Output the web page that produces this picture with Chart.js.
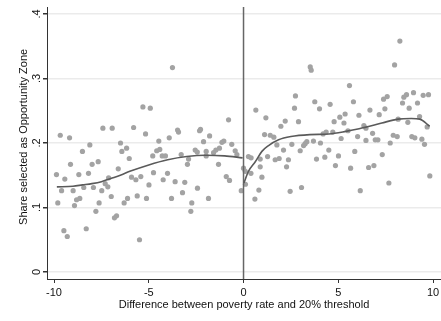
<!DOCTYPE html>
<html>
<head>
<meta charset="utf-8">
<script src="https://cdn.jsdelivr.net/npm/chart.js@4/dist/chart.umd.min.js"></script>
<style>
  body { margin: 0; background: #fff; }
  canvas { display: block; }
</style>
</head>
<body>
<canvas id="chart" width="441" height="321"></canvas>
<script>
const xTicks = [-10, -5, 0, 5, 10];
const yTicks = [0, 0.1, 0.2, 0.3, 0.4];
const yTickLabels = ['0', '.1', '.2', '.3', '.4'];
const cutoff = 0;

// binned scatter: distance from threshold vs share selected
const pointX = [
  -9.67, -9.18, -7.42, -6.93, -6.49, -6.17, -6.42, -8.50, -8.11, -6.03,
  -9.13, -7.99, -7.67, -9.87, -9.43, -8.69, -8.18, -6.61, -7.12, -7.30,
  -7.16, -9.60, -8.99, -8.43, -7.92, -7.48, -6.98, -8.64, -8.81, -8.92,
  -9.80, -7.62, -6.12, -6.30, -7.79, -6.70, -6.81, -9.48, -9.30, -8.30,
  -3.75, -5.31, -4.92, -5.80, -5.17, -3.48, -3.43, -2.27, -2.32, -1.79,
  -2.11, -4.47, -3.92, -4.79, -4.58, -4.42, -4.29, -4.12, -3.29, -2.55,
  -2.44, -1.97, -1.97, -2.90, -2.96, -4.75, -4.01, -5.91, -5.68, -5.42,
  -4.24, -3.61, -3.10, -4.99, -2.43, -3.22, -5.61, -5.12, -3.80, -2.73,
  -2.78, -1.85, -5.49,
  -0.79, 0.65, 1.18, 2.20, 1.97, 1.11, 1.41, 1.60, -1.04, -1.14,
  -0.62, 1.76, -1.27, -1.46, -1.58, -0.44, -0.35, 2.11, 1.27, 0.26,
  0.40, 0.88, 1.67, 1.88, 2.37, 2.27, -1.32, 0.88, 0.00, 0.09,
  0.39, -0.91, -0.74, 0.97, -0.12, 0.81, 0.60, 2.46, 0.10,
  3.52, 3.57, 5.59, 2.74, 3.76, 5.80, 2.69, 4.01, 4.57, 6.67,
  5.36, 5.08, 6.09, 2.90, 4.78, 5.30, 5.51, 6.35, 6.46, 4.20,
  4.36, 4.71, 6.02, 5.15, 6.46, 3.69, 4.06, 3.34, 3.25, 3.17,
  2.55, 2.99, 4.50, 5.87, 5.01, 3.85, 4.29, 4.85, 5.65, 6.60,
  3.06, 6.16,
  8.25, 7.97, 8.97, 8.60, 8.46, 9.48, 9.76, 7.58, 7.39, 8.39,
  9.18, 7.46, 8.74, 7.16, 9.29, 8.16, 8.67, 9.69, 6.81, 7.90,
  8.11, 8.88, 9.04, 9.41, 9.55, 6.95, 7.09, 7.74, 7.32, 6.88,
  7.67, 9.83
];
const pointY = [
  0.212, 0.208, 0.223, 0.223, 0.200, 0.192, 0.187, 0.187, 0.197, 0.176,
  0.167, 0.167, 0.171, 0.151, 0.144, 0.151, 0.153, 0.160, 0.146, 0.137,
  0.132, 0.126, 0.126, 0.131, 0.131, 0.126, 0.117, 0.114, 0.112, 0.103,
  0.107, 0.107, 0.114, 0.107, 0.094, 0.087, 0.084, 0.064, 0.055, 0.067,
  0.317, 0.256, 0.254, 0.224, 0.214, 0.220, 0.217, 0.221, 0.219, 0.211,
  0.202, 0.203, 0.208, 0.180, 0.188, 0.190, 0.180, 0.180, 0.182, 0.189,
  0.186, 0.187, 0.180, 0.175, 0.167, 0.154, 0.153, 0.147, 0.143, 0.148,
  0.143, 0.140, 0.139, 0.135, 0.130, 0.123, 0.118, 0.114, 0.114, 0.107,
  0.094, 0.114, 0.050,
  0.236, 0.251, 0.239, 0.234, 0.226, 0.213, 0.212, 0.209, 0.203, 0.201,
  0.198, 0.197, 0.192, 0.189, 0.185, 0.188, 0.182, 0.189, 0.179, 0.179,
  0.177, 0.175, 0.174, 0.176, 0.174, 0.163, 0.167, 0.163, 0.161, 0.156,
  0.153, 0.148, 0.142, 0.147, 0.126, 0.127, 0.113, 0.125, 0.136,
  0.318, 0.313, 0.289, 0.273, 0.264, 0.264, 0.254, 0.253, 0.260, 0.251,
  0.245, 0.240, 0.243, 0.233, 0.233, 0.231, 0.219, 0.227, 0.223, 0.214,
  0.217, 0.217, 0.210, 0.207, 0.204, 0.203, 0.200, 0.202, 0.199, 0.196,
  0.198, 0.188, 0.189, 0.187, 0.180, 0.175, 0.178, 0.165, 0.161, 0.162,
  0.131, 0.126,
  0.358, 0.321, 0.278, 0.275, 0.271, 0.274, 0.275, 0.272, 0.268, 0.262,
  0.262, 0.253, 0.254, 0.244, 0.241, 0.237, 0.232, 0.225, 0.215, 0.212,
  0.210, 0.210, 0.208, 0.206, 0.198, 0.205, 0.205, 0.200, 0.182, 0.165,
  0.138, 0.149
];

// smoothed fit on each side of the cutoff
const fitLeftX = [-9.85, -9, -8.5, -8, -7.5, -7, -6.5, -6, -5, -4, -3, -2, -1, -0.05];
const fitLeftY = [0.132, 0.133, 0.135, 0.137, 0.140, 0.145, 0.150, 0.156, 0.166, 0.174, 0.179, 0.181, 0.180, 0.177];
const fitRightX = [0.02, 0.26, 0.62, 0.97, 1.32, 1.85, 2.5, 3.5, 4.5, 5.4, 6.1, 6.8, 7.3, 8.15, 8.85, 9.3, 9.82];
const fitRightY = [0.138, 0.156, 0.171, 0.187, 0.196, 0.205, 0.210, 0.213, 0.214, 0.218, 0.222, 0.227, 0.231, 0.237, 0.238, 0.237, 0.226];

const yMin = -0.0109;
const yMax = 0.4109;

const toPts = (xs, ys) => xs.map((x, i) => ({ x: x, y: ys[i] }));
const font = { family: 'Liberation Sans, Arial, sans-serif', size: 11 };

new Chart(document.getElementById('chart'), {
  type: 'scatter',
  data: {
    datasets: [
      {
        data: toPts(pointX, pointY),
        pointRadius: 2.6,
        pointBackgroundColor: '#a3a3a3',
        pointBorderWidth: 0,
        order: 3
      },
      {
        type: 'line',
        data: [{ x: cutoff, y: yMin }, { x: cutoff, y: yMax }],
        borderColor: '#666',
        borderWidth: 1.5,
        pointRadius: 0,
        order: 2
      },
      {
        type: 'line',
        data: toPts(fitLeftX, fitLeftY),
        borderColor: '#5a5a5a',
        borderWidth: 1.6,
        pointRadius: 0,
        cubicInterpolationMode: 'monotone',
        order: 1
      },
      {
        type: 'line',
        data: toPts(fitRightX, fitRightY),
        borderColor: '#5a5a5a',
        borderWidth: 1.6,
        pointRadius: 0,
        cubicInterpolationMode: 'monotone',
        order: 1
      }
    ]
  },
  options: {
    responsive: false,
    animation: false,
    layout: { autoPadding: false, padding: { left: 0, right: 0, top: 7, bottom: 0 } },
    plugins: { legend: { display: false }, tooltip: { enabled: false } },
    scales: {
      x: {
        type: 'linear',
        min: -10.37,
        max: 10.42,
        afterBuildTicks: s => { s.ticks = xTicks.map(v => ({ value: v })); },
        afterFit: s => {
          s.height = 42;
          s.paddingLeft = 0;
          s.paddingRight = 0;
        },
        grid: { drawOnChartArea: false, tickLength: 4, tickColor: '#333' },
        border: { color: '#333', width: 1 },
        ticks: { color: '#111', font: font, padding: 3, maxRotation: 0, autoSkip: false },
        title: {
          display: true,
          text: 'Difference between poverty rate and 20% threshold',
          color: '#111',
          font: font,
          padding: { top: 0, bottom: 9 }
        }
      },
      y: {
        type: 'linear',
        min: yMin,
        max: yMax,
        afterBuildTicks: s => { s.ticks = yTicks.map(v => ({ value: v })); },
        afterFit: s => {
          s.width = 47;
          s.paddingTop = 0;
          s.paddingBottom = 0;
        },
        grid: { color: '#ebebeb', lineWidth: 1.5, tickLength: 4, tickColor: '#333' },
        border: { color: '#333', width: 1 },
        ticks: {
          color: '#111',
          font: font,
          minRotation: 90,
          maxRotation: 90,
          crossAlign: 'center',
          padding: 1,
          callback: (v, i) => yTickLabels[i]
        },
        title: {
          display: true,
          text: '    Share selected as Opportunity Zone',
          color: '#111',
          font: font,
          padding: { top: 17, bottom: 0 }
        }
      }
    }
  }
});
</script>
</body>
</html>
